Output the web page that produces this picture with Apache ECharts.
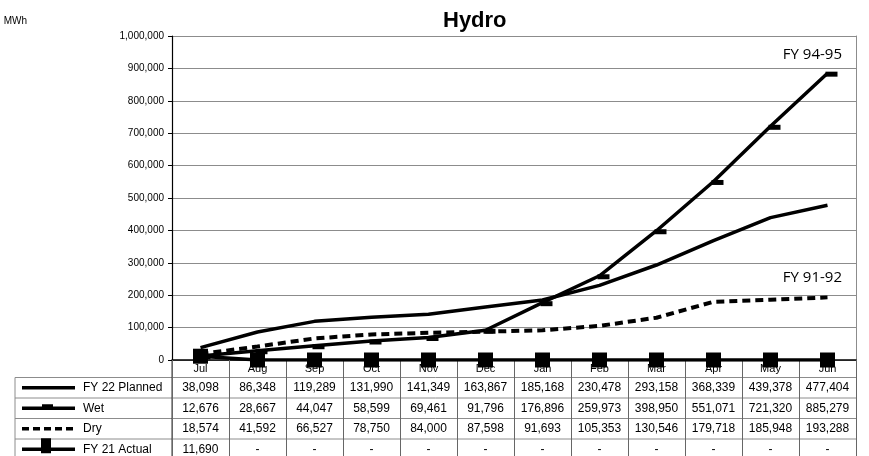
<!DOCTYPE html>
<html>
<head>
<meta charset="utf-8">
<script src="https://cdn.jsdelivr.net/npm/echarts@6/dist/echarts.min.js"></script>
<style>
  html, body { margin: 0; padding: 0; background: #fff; }
  #chart { width: 869px; height: 456px; }
</style>
</head>
<body>
<div id="chart"></div>
<script>
// Monthly cumulative hydro generation (MWh), financial year Jul–Jun
const months = ['Jul', 'Aug', 'Sep', 'Oct', 'Nov', 'Dec', 'Jan', 'Feb', 'Mar', 'Apr', 'May', 'Jun'];
const seriesNames = ['FY 22 Planned', 'Wet', 'Dry', 'FY 21 Actual'];
const fy22Planned = [38098, 86348, 119289, 131990, 141349, 163867, 185168, 230478, 293158, 368339, 439378, 477404];
const wet = [12676, 28667, 44047, 58599, 69461, 91796, 176896, 259973, 398950, 551071, 721320, 885279];
const dry = [18574, 41592, 66527, 78750, 84000, 87598, 91693, 105353, 130546, 179718, 185948, 193288];
const fy21Actual = [11690, 0, 0, 0, 0, 0, 0, 0, 0, 0, 0, 0];
const yTicks = { min: 0, max: 1000000, step: 100000 };
const wetLabel = 'FY 94-95';
const dryLabel = 'FY 91-92';

const FONT = 'Liberation Sans, Arial, sans-serif';
const fmt = v => v === 0 ? '-' : v.toLocaleString('en-US');

const chart = echarts.init(document.getElementById('chart'), null, { renderer: 'canvas' });

const GRID = { left: 172, right: 13, top: 36, bottom: 96 };
const LW = 3.5;

chart.setOption({
  animation: false,
  backgroundColor: '#fff',
  title: {
    text: 'Hydro',
    left: 438,
    top: 5,
    textStyle: { fontFamily: FONT, fontSize: 22, fontWeight: 'bold', color: '#000' }
  },
  grid: GRID,
  xAxis: {
    type: 'category',
    data: months,
    boundaryGap: true,
    axisLine: { lineStyle: { color: '#000', width: 1.5 } },
    axisTick: { show: true, interval: 0, length: 100, lineStyle: { color: '#666', width: 1 } },
    axisLabel: { interval: 0, margin: 3, fontFamily: FONT, fontSize: 11, color: '#000' },
    splitLine: { show: false }
  },
  yAxis: [{
    type: 'value',
    min: yTicks.min,
    max: yTicks.max,
    interval: yTicks.step,
    axisLine: { show: true, lineStyle: { color: '#000', width: 1.2 } },
    axisTick: { show: true, length: 4, lineStyle: { color: '#000' } },
    axisLabel: {
      margin: 8, fontFamily: FONT, fontSize: 10, color: '#000',
      formatter: v => v.toLocaleString('en-US')
    },
    splitLine: { show: true, lineStyle: { color: '#8c8c8c', width: 1 } }
  }, {
    type: 'value',
    position: 'right',
    min: yTicks.min,
    max: yTicks.max,
    interval: yTicks.step,
    axisLine: { show: true, lineStyle: { color: '#8c8c8c', width: 1 } },
    axisTick: { show: false },
    axisLabel: { show: false },
    splitLine: { show: false }
  }],
  series: [
    {
      name: seriesNames[0], type: 'line', data: fy22Planned,
      symbol: 'none', z: 3,
      lineStyle: { color: '#000', width: LW }
    },
    {
      name: seriesNames[1], type: 'line', data: wet,
      symbol: 'rect', symbolSize: [12, 5], symbolOffset: [4, 1], z: 4,
      itemStyle: { color: '#000' },
      lineStyle: { color: '#000', width: LW }
    },
    {
      name: seriesNames[2], type: 'line', data: dry,
      symbol: 'none', z: 3,
      lineStyle: { color: '#000', width: 4, type: [8, 5] }
    },
    {
      name: seriesNames[3], type: 'line', data: fy21Actual,
      symbol: 'rect', symbolSize: 15, z: 5,
      itemStyle: { color: '#000' },
      lineStyle: { color: '#000', width: LW }
    }
  ]
});

// Data table underneath the plot, aligned to the category axis
const rect = chart.getModel().getComponent('grid').coordinateSystem.getRect();
const tableLeft = 15;
const tableRight = rect.x + rect.width;
const rowTop = 377.5;
const rowH = 20.5;
const rows = [fy22Planned, wet, dry, fy21Actual];
const graphics = [];

// horizontal rules
for (let i = 0; i <= rows.length; i++) {
  const y = rowTop + i * rowH;
  graphics.push({
    type: 'line', silent: true,
    shape: { x1: tableLeft, y1: y, x2: tableRight, y2: y },
    style: { stroke: '#8c8c8c', lineWidth: 1 }
  });
}
// left border of legend column, and its right edge
graphics.push({
  type: 'line', silent: true,
  shape: { x1: tableLeft, y1: rowTop, x2: tableLeft, y2: 460 },
  style: { stroke: '#8c8c8c', lineWidth: 1 }
});
graphics.push({
  type: 'line', silent: true,
  shape: { x1: rect.x, y1: rect.y + rect.height, x2: rect.x, y2: 460 },
  style: { stroke: '#333', lineWidth: 1 }
});

rows.forEach((vals, r) => {
  const cy = rowTop + r * rowH + rowH / 2;
  // legend sample
  const sx1 = 22, sx2 = 75;
  const lineStyle = { stroke: '#000', lineWidth: 3.5 };
  if (r === 2) lineStyle.lineDash = [7, 4];
  graphics.push({
    type: 'line', silent: true,
    shape: { x1: sx1, y1: cy, x2: sx2, y2: cy },
    style: lineStyle
  });
  if (r === 1) {
    graphics.push({ type: 'rect', silent: true, shape: { x: 42, y: cy - 4, width: 11, height: 5 }, style: { fill: '#000' } });
  }
  if (r === 3) {
    graphics.push({ type: 'rect', silent: true, shape: { x: 41, y: cy - 11, width: 10, height: 15 }, style: { fill: '#000' } });
  }
  graphics.push({
    type: 'text', silent: true,
    style: {
      text: seriesNames[r], x: 83, y: cy,
      font: '12px ' + FONT, fill: '#000', textAlign: 'left', textVerticalAlign: 'middle'
    }
  });
  vals.forEach((v, i) => {
    const px = chart.convertToPixel({ xAxisIndex: 0 }, months[i]);
    graphics.push({
      type: 'text', silent: true,
      style: {
        text: fmt(v), x: px, y: cy,
        font: '12px ' + FONT, fill: '#000', textAlign: 'center', textVerticalAlign: 'middle'
      }
    });
  });
});

// unit label and scenario annotations
graphics.push({
  type: 'text', silent: true,
  style: { text: 'MWh', x: 27, y: 21, font: '10px ' + FONT, fill: '#000', textAlign: 'right', textVerticalAlign: 'middle' }
});
graphics.push({
  type: 'text', silent: true,
  style: { text: wetLabel, x: 842, y: 55, font: '15px "Open Sans", sans-serif', fill: '#000', textAlign: 'right', textVerticalAlign: 'middle' }
});
graphics.push({
  type: 'text', silent: true,
  style: { text: dryLabel, x: 842, y: 278, font: '15px "Open Sans", sans-serif', fill: '#000', textAlign: 'right', textVerticalAlign: 'middle' }
});

chart.setOption({ graphic: graphics });
</script>
</body>
</html>
